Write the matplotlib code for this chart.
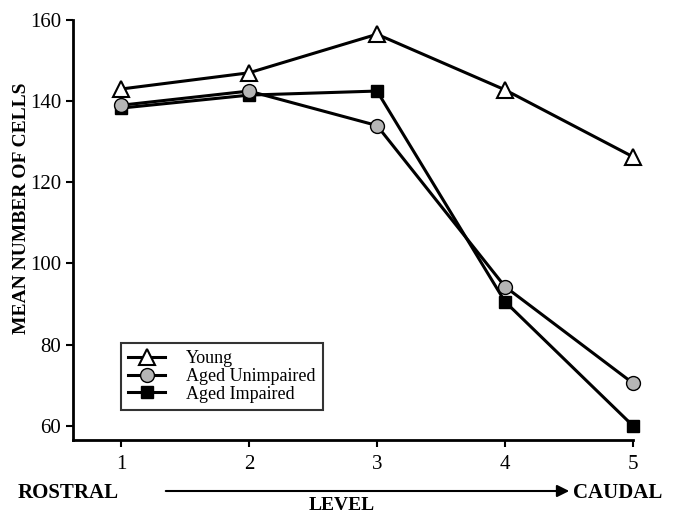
import matplotlib
matplotlib.use("Agg")
import matplotlib.pyplot as plt

# data
levels = [1, 2, 3, 4, 5]
young = [143, 147, 156.5, 142.8, 126.3]
aged_unimpaired = [139, 142.5, 134, 94.3, 70.5]
aged_impaired = [138.3, 141.5, 142.5, 90.6, 60]
yticks = [60, 80, 100, 120, 140, 160]

plt.rcParams['font.family'] = ['Liberation Serif', 'DejaVu Serif']

fig = plt.figure(figsize=(6.73, 5.14), dpi=100)
ax = fig.add_axes([0.1085, 0.144, 0.832, 0.817])

ax.plot(levels, young, color='black', lw=2.2, marker='^', ms=11,
        mfc='white', mec='black', mew=1.5, label='Young', zorder=3, clip_on=False)
ax.plot(levels, aged_unimpaired, color='black', lw=2.2, marker='o', ms=10,
        mfc='#b5b5b5', mec='black', mew=1.0, label='Aged Unimpaired', zorder=4, clip_on=False)
ax.plot(levels, aged_impaired, color='black', lw=2.2, marker='s', ms=9,
        mfc='black', mec='black', label='Aged Impaired', zorder=3, clip_on=False)

ax.set_xlim(0.625, 5.0)
ax.set_ylim(56.5, 160)
ax.set_xticks(levels)
ax.set_yticks(yticks)
ax.tick_params(labelsize=15, width=1.5, length=5, direction='out')
ax.tick_params(axis='x', pad=6)
ax.spines['top'].set_visible(False)
ax.spines['right'].set_visible(False)
ax.spines['left'].set_linewidth(2)
ax.spines['bottom'].set_linewidth(2)

fig.text(22 / 673, 1 - 208 / 514, 'MEAN NUMBER OF CELLS', fontsize=14,
         fontweight='bold', rotation=90, ha='center', va='center')

leg = ax.legend(loc='lower left', bbox_to_anchor=(0.07, 0.05), fontsize=13,
                frameon=True, fancybox=False, handlelength=2.0, borderpad=0.4,
                labelspacing=0.05, handletextpad=1.2)
leg.get_frame().set_edgecolor('black')
leg.get_frame().set_linewidth(1.5)

# rostral -> caudal arrow under the axis
fig.text(18 / 673, 1 - 493 / 514, 'ROSTRAL', fontsize=15, fontweight='bold', va='center')
fig.text(662 / 673, 1 - 493 / 514, 'CAUDAL', fontsize=15, fontweight='bold', va='center', ha='right')
fig.text(342 / 673, 1 - 505 / 514, 'LEVEL', fontsize=14, fontweight='bold', va='center', ha='center')
fig.add_artist(matplotlib.patches.FancyArrowPatch(
    (163 / 673, 1 - 491 / 514), (572 / 673, 1 - 491 / 514),
    transform=fig.transFigure, arrowstyle='-|>', mutation_scale=18,
    color='black', lw=1.5))

fig.savefig('out.png', dpi=100)
